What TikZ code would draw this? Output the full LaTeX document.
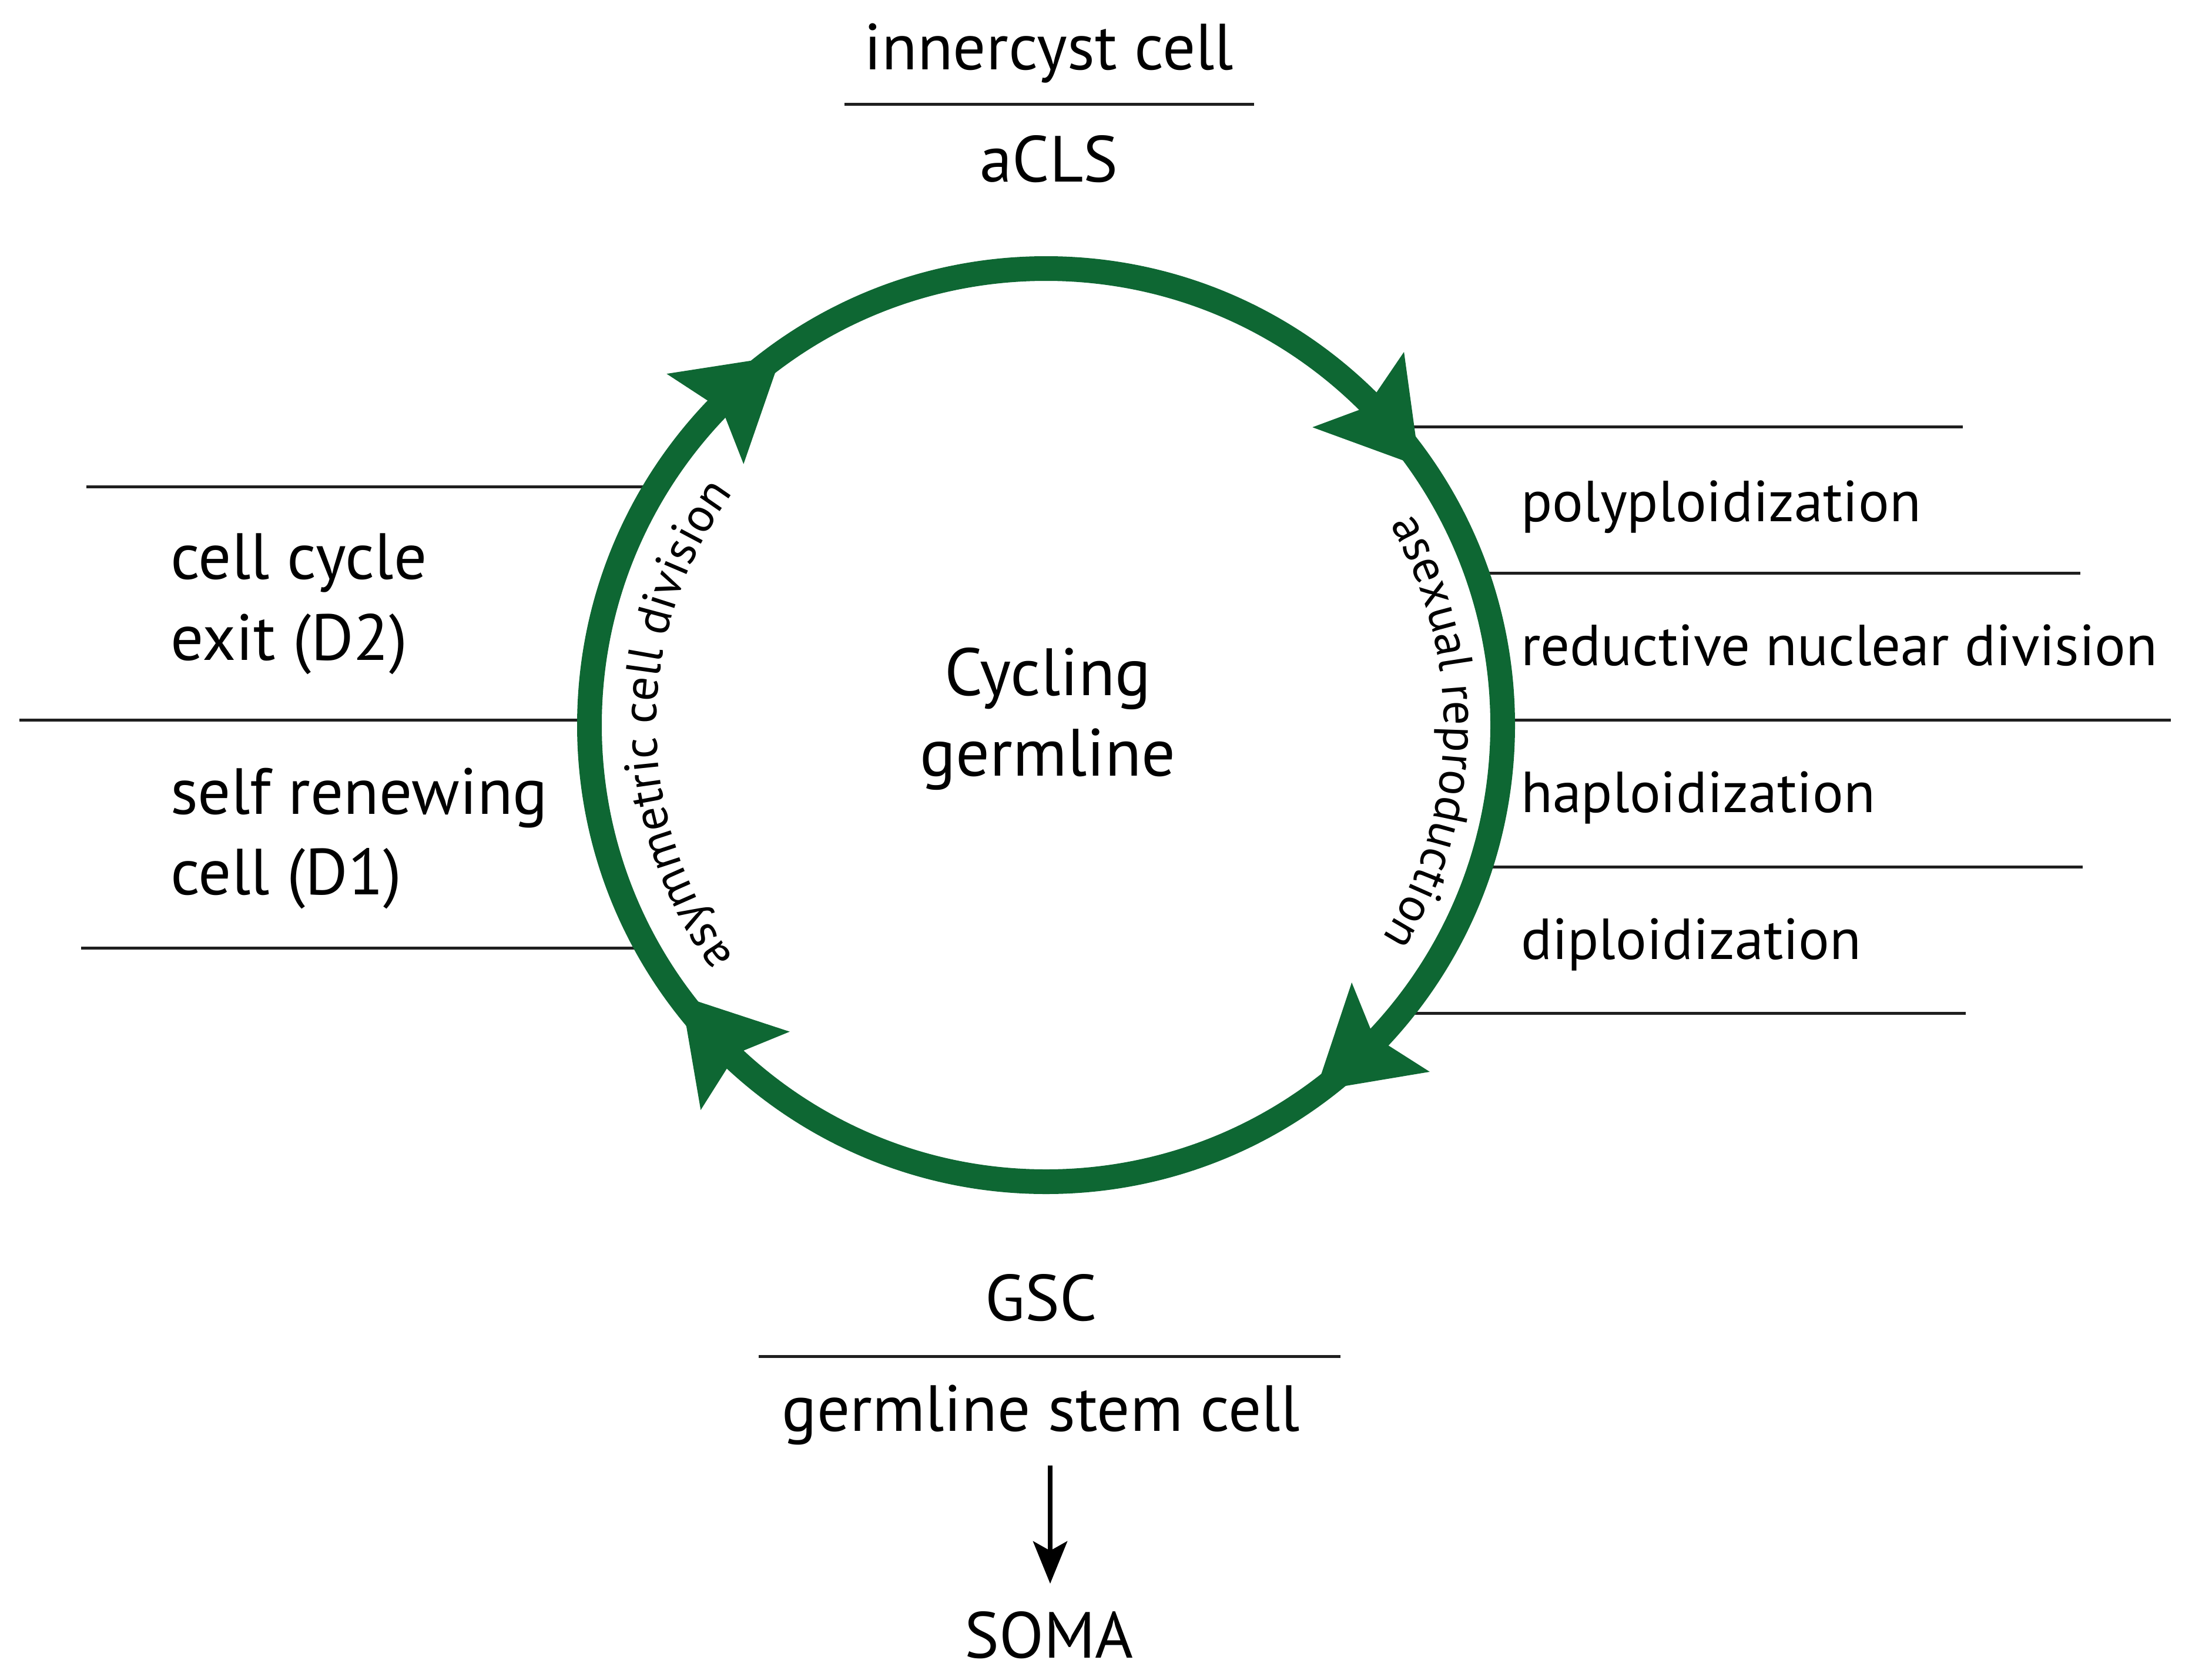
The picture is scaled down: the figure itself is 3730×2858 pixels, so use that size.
\documentclass[tikz,border=0pt]{standalone}
\usepackage{fontspec}
\setmainfont{PT Sans}
\usetikzlibrary{arrows.meta,decorations.text}
\definecolor{cyclegreen}{RGB}{14,103,51}
\newcommand\arcfont{\fontsize{82}{100}\selectfont}
\newcommand\cyclehead[1]{%
  \fill[cyclegreen] ([shift={({#1-14}:777)}]C) -- ([shift={({#1-9.2}:798)}]C)
    -- ([shift={({#1-1}:880)}]C) -- ([shift={({#1-2}:798)}]C)
    -- ([shift={({#1-2}:756)}]C) -- ([shift={({#1+1}:680)}]C)
    -- ([shift={({#1-10.6}:756)}]C) -- cycle;}
\begin{document}
\begin{tikzpicture}[x=1pt,y=1pt,
  lbl/.style={inner sep=0pt, font=\fontsize{111}{130}\selectfont},
  lblc/.style={inner sep=0pt, font=\fontsize{114}{130}\selectfont},
  lblr/.style={inner sep=0pt, font=\fontsize{98.5}{120}\selectfont},
  sepline/.style={line width=5pt, draw=black!88},
  ring/.style={draw=cyclegreen, line width=42pt}]
\fill[white] (0,0) rectangle (3730,-2858);
\useasboundingbox (0,0) rectangle (3730,-2858);
\coordinate (C) at (1780,-1234);

% separator lines
\draw[sepline] (1437,-178) -- (2134,-178);
\draw[sepline] (2390,-726) -- (3340,-726);
\draw[sepline] (2520,-975) -- (3540,-975);
\draw[sepline] (2560,-1225) -- (3694,-1225);
\draw[sepline] (2525,-1475) -- (3544,-1475);
\draw[sepline] (2400,-1724) -- (3345,-1724);
\draw[sepline] (147,-828) -- (1100,-828);
\draw[sepline] (33,-1225) -- (1000,-1225);
\draw[sepline] (138,-1613) -- (1090,-1613);
\draw[sepline] (1291,-2308) -- (2281,-2308);

% ring and heads
\draw[ring] (C) circle[radius=777];
\cyclehead{138.2}
\cyclehead{47.2}
\cyclehead{-41.1}
\cyclehead{-130.9}

% arc texts
\path[decorate, decoration={text along path, text align=center,
  text={|\arcfont|asymmetric cell division}}]
  ([shift={(240:663)}]C) arc[start angle=240, end angle=120, radius=663];
\path[decorate, decoration={text along path, text align=center,
  text={|\arcfont|asexual reproduction}}]
  ([shift={(59:677)}]C) arc[start angle=59, end angle=-61, radius=677];

% labels
\node[lbl, anchor=base] (inn) at (1785,-119) {innercyst cell};
\node[lbl, anchor=base] (acls) at (1785,-309) {aCLS};
\node[lblc, anchor=base] (cyc) at (1783,-1183) {Cycling};
\node[lblc, anchor=base] (grm) at (1783,-1320) {germline};
\node[lbl, anchor=base west] (ccy) at (290,-985) {cell cycle};
\node[lbl, anchor=base west] (exd) at (290,-1123) {exit (D2)};
\node[lbl, anchor=base west] (srn) at (290,-1385) {self renewing};
\node[lbl, anchor=base west] (cd1) at (290,-1522) {cell (D1)};
\node[lblr, anchor=base west] (pol) at (2588,-887) {polyploidization};
\node[lblr, anchor=base west] (red) at (2588,-1132) {reductive nuclear division};
\node[lblr, anchor=base west] (hap) at (2588,-1382) {haploidization};
\node[lblr, anchor=base west] (dip) at (2588,-1632) {diploidization};
\node[lbl, anchor=base] (gsc) at (1772,-2247) {GSC};
\node[lbl, anchor=base] (gsl) at (1771,-2435) {germline stem cell};
\node[lbl, anchor=base] (soma) at (1785,-2821) {SOMA};

\coordinate (arrS) at (1787,-2494);
\coordinate (arrE) at (1787,-2695);
\draw[line width=8pt, -{Stealth[length=72pt, width=58pt, inset=16pt]}] (arrS) -- (arrE);
\end{tikzpicture}
\end{document}
